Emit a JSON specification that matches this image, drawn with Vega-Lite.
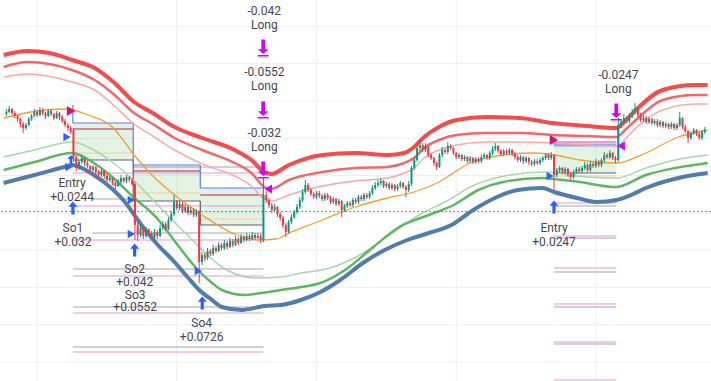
{
"$schema":"https://vega.github.io/schema/vega-lite/v6.json",
"width":711,"height":381,"padding":0,"autosize":{"type":"none"},"background":"#ffffff",
"config":{"view":{"stroke":null}},
"datasets":{
"gx":[{"t":50},{"t":100},{"t":150},{"t":200},{"t":250}],
"gy":[{"p":354.7},{"p":317.4},{"p":280.1},{"p":242.8},{"p":205.5},{"p":168.2},{"p":130.9},{"p":93.6},{"p":56.3},{"p":19}],
"c":[
{"t":39,"o":267,"c":269,"h":272,"l":265},{"t":40,"o":269,"c":272,"h":275,"l":268},{"t":41,"o":272,"c":268,"h":273,"l":266},{"t":42,"o":268,"c":265,"h":270,"l":263},{"t":43,"o":265,"c":262,"h":266,"l":259},{"t":44,"o":262,"c":257,"h":263,"l":254},{"t":45,"o":257,"c":253,"h":259,"l":248},{"t":46,"o":253,"c":256,"h":258,"l":251},{"t":47,"o":256,"c":262,"h":264,"l":255},{"t":48,"o":262,"c":265,"h":267,"l":260},{"t":49,"o":265,"c":269,"h":272,"l":264},{"t":50,"o":269,"c":266,"h":271,"l":264},{"t":51,"o":266,"c":271,"h":274,"l":265},{"t":52,"o":271,"c":268,"h":273,"l":266},{"t":53,"o":268,"c":265,"h":269,"l":262},{"t":54,"o":265,"c":270,"h":272,"l":264},{"t":55,"o":270,"c":267,"h":272,"l":265},{"t":56,"o":267,"c":263,"h":268,"l":261},{"t":57,"o":263,"c":268,"h":270,"l":262},{"t":58,"o":268,"c":264,"h":269,"l":261},{"t":59,"o":264,"c":260,"h":266,"l":258},{"t":60,"o":260,"c":256,"h":262,"l":254},{"t":61,"o":256,"c":253,"h":258,"l":250},{"t":62,"o":253,"c":249,"h":255,"l":247},
{"t":63,"o":251,"c":224,"h":253,"l":219},{"t":64,"o":224,"c":213,"h":226,"l":210},{"t":65,"o":213,"c":219,"h":221,"l":211},{"t":66,"o":219,"c":223,"h":226,"l":217},{"t":67,"o":223,"c":218,"h":224,"l":215},{"t":68,"o":218,"c":215,"h":220,"l":213},{"t":69,"o":215,"c":211,"h":216,"l":208},{"t":70,"o":211,"c":214,"h":216,"l":209},{"t":71,"o":214,"c":209,"h":215,"l":207},{"t":72,"o":209,"c":206,"h":211,"l":203},{"t":73,"o":206,"c":210,"h":212,"l":204},{"t":74,"o":210,"c":205,"h":211,"l":202},{"t":75,"o":205,"c":201,"h":207,"l":199},{"t":76,"o":201,"c":203,"h":205,"l":199},{"t":77,"o":203,"c":198,"h":204,"l":196},{"t":78,"o":198,"c":195,"h":200,"l":192},{"t":79,"o":195,"c":199,"h":202,"l":194},{"t":80,"o":199,"c":203,"h":206,"l":197},{"t":81,"o":203,"c":200,"h":204,"l":198},{"t":82,"o":200,"c":204,"h":206,"l":198},{"t":83,"o":204,"c":201,"h":205,"l":199},{"t":84,"o":201,"c":197,"h":203,"l":195},
{"t":85,"o":197,"c":156,"h":199,"l":141},{"t":86,"o":156,"c":146,"h":160,"l":140},{"t":87,"o":146,"c":153,"h":157,"l":144},{"t":88,"o":153,"c":145,"h":155,"l":142},{"t":89,"o":145,"c":151,"h":154,"l":143},{"t":90,"o":151,"c":148,"h":153,"l":145},{"t":91,"o":148,"c":143,"h":150,"l":140},{"t":92,"o":143,"c":149,"h":152,"l":141},{"t":93,"o":149,"c":145,"h":151,"l":142},{"t":94,"o":145,"c":153,"h":156,"l":144},{"t":95,"o":153,"c":157,"h":160,"l":151},{"t":96,"o":157,"c":152,"h":159,"l":150},{"t":97,"o":152,"c":161,"h":164,"l":151},{"t":98,"o":161,"c":167,"h":170,"l":159},{"t":99,"o":167,"c":179,"h":186,"l":165},{"t":100,"o":179,"c":173,"h":181,"l":171},{"t":101,"o":173,"c":177,"h":180,"l":171},{"t":102,"o":177,"c":170,"h":179,"l":168},{"t":103,"o":170,"c":174,"h":177,"l":168},{"t":104,"o":174,"c":168,"h":176,"l":166},{"t":105,"o":168,"c":171,"h":174,"l":166},{"t":106,"o":171,"c":166,"h":173,"l":164},{"t":107,"o":166,"c":169,"h":172,"l":164},
{"t":108,"o":169,"c":119,"h":171,"l":98},{"t":109,"o":119,"c":126,"h":129,"l":116},{"t":110,"o":126,"c":123,"h":128,"l":120},{"t":111,"o":123,"c":130,"h":133,"l":121},{"t":112,"o":130,"c":127,"h":132,"l":125},{"t":113,"o":127,"c":133,"h":136,"l":125},{"t":114,"o":133,"c":130,"h":135,"l":128},{"t":115,"o":130,"c":136,"h":139,"l":129},{"t":116,"o":136,"c":133,"h":138,"l":131},{"t":117,"o":133,"c":138,"h":141,"l":131},{"t":118,"o":138,"c":134,"h":140,"l":132},{"t":119,"o":134,"c":140,"h":143,"l":133},{"t":120,"o":140,"c":136,"h":142,"l":134},{"t":121,"o":136,"c":142,"h":145,"l":135},{"t":122,"o":142,"c":138,"h":144,"l":136},{"t":123,"o":138,"c":144,"h":147,"l":137},{"t":124,"o":144,"c":141,"h":146,"l":139},{"t":125,"o":141,"c":145,"h":148,"l":140},{"t":126,"o":145,"c":142,"h":147,"l":140},{"t":127,"o":142,"c":146,"h":149,"l":141},{"t":128,"o":146,"c":143,"h":148,"l":141},{"t":129,"o":143,"c":145,"h":148,"l":142},{"t":130,"o":145,"c":141,"h":147,"l":138},
{"t":131,"o":141,"c":186,"h":203,"l":139},{"t":132,"o":186,"c":181,"h":190,"l":178},{"t":133,"o":181,"c":176,"h":183,"l":173},{"t":134,"o":176,"c":171,"h":178,"l":168},{"t":135,"o":171,"c":174,"h":177,"l":169},{"t":136,"o":174,"c":167,"h":175,"l":164},{"t":137,"o":167,"c":163,"h":169,"l":160},{"t":138,"o":163,"c":156,"h":165,"l":153},{"t":139,"o":156,"c":149,"h":158,"l":144},{"t":140,"o":149,"c":159,"h":161,"l":147},{"t":141,"o":159,"c":164,"h":167,"l":157},{"t":142,"o":164,"c":169,"h":171,"l":162},{"t":143,"o":169,"c":174,"h":177,"l":167},{"t":144,"o":174,"c":181,"h":184,"l":172},{"t":145,"o":181,"c":189,"h":192,"l":179},{"t":146,"o":189,"c":196,"h":201,"l":187},{"t":147,"o":196,"c":191,"h":198,"l":189},{"t":148,"o":191,"c":187,"h":193,"l":185},{"t":149,"o":187,"c":184,"h":189,"l":182},{"t":150,"o":184,"c":188,"h":190,"l":182},{"t":151,"o":188,"c":185,"h":190,"l":183},{"t":152,"o":185,"c":182,"h":187,"l":180},{"t":153,"o":182,"c":186,"h":188,"l":180},{"t":154,"o":186,"c":183,"h":188,"l":181},{"t":155,"o":183,"c":179,"h":185,"l":177},{"t":156,"o":179,"c":182,"h":184,"l":177},{"t":157,"o":182,"c":177,"h":183,"l":175},{"t":158,"o":177,"c":180,"h":182,"l":175},{"t":159,"o":180,"c":171,"h":181,"l":164},{"t":160,"o":171,"c":175,"h":177,"l":169},{"t":161,"o":175,"c":178,"h":180,"l":173},{"t":162,"o":178,"c":176,"h":180,"l":174},{"t":163,"o":176,"c":181,"h":183,"l":174},{"t":164,"o":181,"c":179,"h":183,"l":177},{"t":165,"o":179,"c":184,"h":186,"l":177},{"t":166,"o":184,"c":182,"h":186,"l":180},{"t":167,"o":182,"c":186,"h":188,"l":180},{"t":168,"o":186,"c":184,"h":188,"l":182},{"t":169,"o":184,"c":188,"h":190,"l":182},{"t":170,"o":188,"c":193,"h":196,"l":186},{"t":171,"o":193,"c":196,"h":199,"l":191},{"t":172,"o":196,"c":198,"h":201,"l":194},{"t":173,"o":198,"c":200,"h":203,"l":196},{"t":174,"o":200,"c":195,"h":201,"l":193},{"t":175,"o":195,"c":197,"h":199,"l":193},{"t":176,"o":197,"c":193,"h":199,"l":191},{"t":177,"o":193,"c":196,"h":198,"l":191},{"t":178,"o":196,"c":192,"h":197,"l":190},{"t":179,"o":192,"c":195,"h":197,"l":190},{"t":180,"o":195,"c":198,"h":200,"l":193},{"t":181,"o":198,"c":194,"h":199,"l":192},{"t":182,"o":194,"c":191,"h":196,"l":184},{"t":183,"o":191,"c":197,"h":200,"l":189},
{"t":184,"o":197,"c":213,"h":215,"l":195},{"t":185,"o":213,"c":221,"h":224,"l":211},{"t":186,"o":221,"c":233,"h":236,"l":219},{"t":187,"o":233,"c":236,"h":241,"l":230},{"t":188,"o":236,"c":231,"h":238,"l":229},{"t":189,"o":231,"c":234,"h":238,"l":229},{"t":190,"o":234,"c":226,"h":235,"l":224},{"t":191,"o":226,"c":223,"h":228,"l":221},{"t":192,"o":223,"c":218,"h":224,"l":215},{"t":193,"o":218,"c":214,"h":219,"l":211},{"t":194,"o":214,"c":226,"h":228,"l":213},{"t":195,"o":226,"c":231,"h":234,"l":224},{"t":196,"o":231,"c":229,"h":233,"l":227},{"t":197,"o":229,"c":235,"h":239,"l":227},{"t":198,"o":235,"c":233,"h":237,"l":231},{"t":199,"o":233,"c":228,"h":234,"l":226},{"t":200,"o":228,"c":224,"h":229,"l":222},{"t":201,"o":224,"c":226,"h":228,"l":222},{"t":202,"o":226,"c":222,"h":227,"l":220},{"t":203,"o":222,"c":224,"h":226,"l":220},{"t":204,"o":224,"c":220,"h":225,"l":218},{"t":205,"o":220,"c":223,"h":225,"l":218},{"t":206,"o":223,"c":219,"h":224,"l":217},{"t":207,"o":219,"c":222,"h":224,"l":217},{"t":208,"o":222,"c":220,"h":224,"l":218},{"t":209,"o":220,"c":224,"h":226,"l":218},{"t":210,"o":224,"c":226,"h":228,"l":222},{"t":211,"o":226,"c":223,"h":227,"l":221},{"t":212,"o":223,"c":228,"h":230,"l":221},{"t":213,"o":228,"c":232,"h":235,"l":226},{"t":214,"o":232,"c":235,"h":238,"l":230},{"t":215,"o":235,"c":230,"h":236,"l":228},{"t":216,"o":230,"c":227,"h":232,"l":225},{"t":217,"o":227,"c":230,"h":232,"l":225},{"t":218,"o":230,"c":228,"h":232,"l":226},{"t":219,"o":228,"c":231,"h":233,"l":226},{"t":220,"o":231,"c":227,"h":232,"l":225},{"t":221,"o":227,"c":224,"h":229,"l":222},{"t":222,"o":224,"c":221,"h":226,"l":219},{"t":223,"o":221,"c":224,"h":226,"l":219},{"t":224,"o":224,"c":220,"h":225,"l":217},{"t":225,"o":220,"c":223,"h":225,"l":218},{"t":226,"o":223,"c":219,"h":224,"l":216},{"t":227,"o":219,"c":217,"h":221,"l":215},{"t":228,"o":217,"c":220,"h":222,"l":215},{"t":229,"o":220,"c":218,"h":222,"l":216},{"t":230,"o":218,"c":221,"h":223,"l":216},{"t":231,"o":221,"c":223,"h":225,"l":219},{"t":232,"o":223,"c":226,"h":228,"l":221},{"t":233,"o":226,"c":223,"h":228,"l":221},{"t":234,"o":223,"c":226,"h":229,"l":221},
{"t":235,"o":226,"c":206,"h":227,"l":191},{"t":236,"o":206,"c":211,"h":213,"l":204},{"t":237,"o":211,"c":213,"h":215,"l":208},{"t":238,"o":213,"c":209,"h":214,"l":207},{"t":239,"o":209,"c":212,"h":214,"l":207},{"t":240,"o":212,"c":207,"h":213,"l":204},{"t":241,"o":207,"c":204,"h":209,"l":201},{"t":242,"o":204,"c":209,"h":211,"l":202},{"t":243,"o":209,"c":212,"h":214,"l":207},{"t":244,"o":212,"c":210,"h":214,"l":208},{"t":245,"o":210,"c":213,"h":215,"l":208},{"t":246,"o":213,"c":216,"h":219,"l":211},{"t":247,"o":216,"c":211,"h":218,"l":209},{"t":248,"o":211,"c":217,"h":220,"l":209},{"t":249,"o":217,"c":215,"h":219,"l":213},{"t":250,"o":215,"c":219,"h":222,"l":213},{"t":251,"o":219,"c":216,"h":221,"l":214},{"t":252,"o":216,"c":221,"h":223,"l":214},{"t":253,"o":221,"c":226,"h":229,"l":219},{"t":254,"o":226,"c":224,"h":228,"l":222},{"t":255,"o":224,"c":228,"h":231,"l":222},{"t":256,"o":228,"c":223,"h":229,"l":221},{"t":257,"o":223,"c":221,"h":225,"l":218},
{"t":258,"o":221,"c":256,"h":263,"l":219},{"t":259,"o":256,"c":259,"h":262,"l":253},{"t":260,"o":259,"c":263,"h":267,"l":257},{"t":261,"o":263,"c":260,"h":265,"l":258},{"t":262,"o":260,"c":265,"h":268,"l":258},{"t":263,"o":265,"c":269,"h":272,"l":263},{"t":264,"o":269,"c":273,"h":278,"l":267},{"t":265,"o":273,"c":266,"h":274,"l":264},{"t":266,"o":266,"c":261,"h":268,"l":259},{"t":267,"o":261,"c":263,"h":266,"l":259},{"t":268,"o":263,"c":259,"h":265,"l":257},{"t":269,"o":259,"c":262,"h":264,"l":257},{"t":270,"o":262,"c":258,"h":263,"l":256},{"t":271,"o":258,"c":260,"h":262,"l":256},{"t":272,"o":260,"c":256,"h":262,"l":254},{"t":273,"o":256,"c":259,"h":261,"l":254},{"t":274,"o":259,"c":255,"h":260,"l":253},{"t":275,"o":255,"c":257,"h":259,"l":253},{"t":276,"o":257,"c":254,"h":258,"l":252},{"t":277,"o":254,"c":257,"h":259,"l":252},{"t":278,"o":257,"c":253,"h":258,"l":251},{"t":279,"o":253,"c":256,"h":258,"l":251},{"t":280,"o":256,"c":263,"h":269,"l":254},{"t":281,"o":263,"c":254,"h":264,"l":252},{"t":282,"o":254,"c":250,"h":256,"l":248},{"t":283,"o":250,"c":243,"h":251,"l":238},{"t":284,"o":243,"c":248,"h":250,"l":241},{"t":285,"o":248,"c":251,"h":253,"l":246},{"t":286,"o":251,"c":247,"h":252,"l":245},{"t":287,"o":247,"c":243,"h":249,"l":241},{"t":288,"o":243,"c":249,"h":251,"l":241},{"t":289,"o":249,"c":251,"h":254,"l":247}
],
"u3":[{"t":38,"p":326},{"t":46.6,"p":330},{"t":54.4,"p":328},{"t":62.5,"p":321},{"t":70.6,"p":313},{"t":77.3,"p":299},{"t":84.7,"p":279},{"t":91.4,"p":268},{"t":99.2,"p":254},{"t":109.1,"p":243},{"t":120.7,"p":231},{"t":126.7,"p":221},{"t":131.3,"p":209},{"t":133.8,"p":207},{"t":140.1,"p":216},{"t":152.1,"p":226},{"t":163.8,"p":228},{"t":175.4,"p":226},{"t":181.4,"p":228},{"t":184.9,"p":234},{"t":188.5,"p":244},{"t":193.8,"p":254},{"t":200.1,"p":261},{"t":210.7,"p":264},{"t":222.7,"p":263},{"t":234.3,"p":258},{"t":246.7,"p":255},{"t":257.3,"p":253},{"t":260.8,"p":261},{"t":264.3,"p":271},{"t":273.9,"p":291},{"t":285.5,"p":296},{"t":290,"p":296}],
"u2":[{"t":38,"p":314},{"t":46.6,"p":319},{"t":62.5,"p":311},{"t":70.6,"p":301},{"t":77.3,"p":287},{"t":84.7,"p":268},{"t":91.4,"p":257},{"t":99.2,"p":243},{"t":109.1,"p":231},{"t":120.7,"p":218},{"t":126.7,"p":208},{"t":131.3,"p":194},{"t":133.8,"p":192},{"t":140.1,"p":201},{"t":152.1,"p":209},{"t":163.8,"p":213},{"t":175.4,"p":214},{"t":181.4,"p":218},{"t":184.9,"p":223},{"t":188.5,"p":233},{"t":193.8,"p":241},{"t":200.1,"p":246},{"t":210.7,"p":248},{"t":222.7,"p":248},{"t":234.3,"p":246},{"t":246.7,"p":245},{"t":257.3,"p":244},{"t":260.8,"p":252},{"t":264.3,"p":261},{"t":273.9,"p":281},{"t":285.5,"p":286},{"t":290,"p":286}],
"u1":[{"t":38,"p":304},{"t":46.6,"p":307},{"t":62.5,"p":299},{"t":70.6,"p":291},{"t":77.3,"p":276},{"t":84.7,"p":257},{"t":91.4,"p":245},{"t":99.2,"p":231},{"t":109.1,"p":217},{"t":120.7,"p":205},{"t":126.7,"p":195},{"t":131.3,"p":182},{"t":133.8,"p":180},{"t":140.1,"p":186},{"t":152.1,"p":195},{"t":163.8,"p":200},{"t":175.4,"p":203},{"t":181.4,"p":208},{"t":184.9,"p":213},{"t":188.5,"p":223},{"t":193.8,"p":231},{"t":200.1,"p":236},{"t":210.7,"p":239},{"t":222.7,"p":239},{"t":234.3,"p":238},{"t":246.7,"p":236},{"t":257.3,"p":235},{"t":260.8,"p":243},{"t":264.3,"p":253},{"t":273.9,"p":271},{"t":285.5,"p":277},{"t":290,"p":277}],
"m":[{"t":38,"p":263},{"t":52.6,"p":271},{"t":60.7,"p":272},{"t":69.2,"p":265},{"t":73.8,"p":260},{"t":77.3,"p":253},{"t":80.8,"p":241},{"t":84.7,"p":226},{"t":91.4,"p":205},{"t":99.2,"p":186},{"t":109.1,"p":166},{"t":121.4,"p":146},{"t":129.5,"p":141},{"t":135.5,"p":142},{"t":140.1,"p":148},{"t":152.1,"p":161},{"t":163.8,"p":174},{"t":175.4,"p":183},{"t":184.9,"p":189},{"t":193.1,"p":198},{"t":205,"p":218},{"t":216.7,"p":226},{"t":228.3,"p":228},{"t":235.4,"p":226},{"t":244.2,"p":221},{"t":257.3,"p":218},{"t":267.9,"p":228},{"t":279.5,"p":244},{"t":290,"p":251}],
"l1":[{"t":38,"p":224},{"t":49.1,"p":231},{"t":62.5,"p":239},{"t":70.3,"p":231},{"t":77.3,"p":218},{"t":83.3,"p":204},{"t":91.4,"p":181},{"t":104.5,"p":144},{"t":116.1,"p":114},{"t":127.8,"p":103},{"t":137.3,"p":104},{"t":144.4,"p":108},{"t":154.9,"p":113},{"t":165.5,"p":126},{"t":176.1,"p":146},{"t":186.7,"p":166},{"t":197.3,"p":181},{"t":205,"p":194},{"t":219.2,"p":206},{"t":231.9,"p":209},{"t":243.2,"p":205},{"t":257.3,"p":203},{"t":267.9,"p":213},{"t":278.4,"p":221},{"t":290,"p":226}],
"l2":[{"t":38,"p":211},{"t":49.1,"p":219},{"t":62.5,"p":228},{"t":70.3,"p":218},{"t":77.3,"p":203},{"t":84.4,"p":184},{"t":92.5,"p":164},{"t":100.3,"p":136},{"t":106.6,"p":114},{"t":112.6,"p":98},{"t":116.1,"p":91},{"t":124.2,"p":86},{"t":130.2,"p":88},{"t":137.3,"p":91},{"t":144.4,"p":94},{"t":151.4,"p":98},{"t":160.2,"p":111},{"t":169.1,"p":131},{"t":179.6,"p":154},{"t":190.2,"p":166},{"t":199.1,"p":176},{"t":207.9,"p":191},{"t":216.7,"p":199},{"t":230.8,"p":203},{"t":235,"p":202},{"t":244.2,"p":199},{"t":257.3,"p":194},{"t":267.9,"p":206},{"t":278.4,"p":213},{"t":290,"p":218}],
"l3":[{"t":38,"p":198},{"t":49.1,"p":206},{"t":59.7,"p":214},{"t":62.5,"p":216},{"t":70.3,"p":206},{"t":77.3,"p":191},{"t":80.8,"p":181},{"t":87.9,"p":154},{"t":93.2,"p":136},{"t":98.5,"p":121},{"t":103.8,"p":104},{"t":108,"p":91},{"t":112.6,"p":81},{"t":116.1,"p":74},{"t":123.2,"p":71},{"t":131.3,"p":75},{"t":137.3,"p":76},{"t":144.4,"p":81},{"t":151.4,"p":89},{"t":158.5,"p":101},{"t":166.6,"p":118},{"t":174.4,"p":131},{"t":182.5,"p":141},{"t":190.2,"p":148},{"t":198.3,"p":156},{"t":206.1,"p":171},{"t":214.6,"p":184},{"t":222,"p":191},{"t":230.8,"p":193},{"t":235,"p":189},{"t":243.2,"p":183},{"t":250.2,"p":179},{"t":257.3,"p":181},{"t":262.6,"p":186},{"t":267.9,"p":193},{"t":279.5,"p":203},{"t":290,"p":208}],
"box":[{"t1":62.8,"t2":84.4,"p1":258,"p2":221},{"t1":84.4,"t2":108.4,"p1":216,"p2":180},{"t1":108.4,"t2":131,"p1":193,"p2":156},{"t1":235,"t2":257.3,"p1":236,"p2":208}],
"seg":[
{"k":"gray","t1":69.9,"p1":182,"t2":84.4,"p2":182},{"k":"gray","t1":84.4,"p1":214,"t2":131,"p2":214},{"k":"gray","t1":69.9,"p1":148,"t2":131,"p2":148},{"k":"gray","t1":62.8,"p1":112,"t2":131,"p2":112},{"k":"gray","t1":62.8,"p1":74,"t2":131,"p2":74},{"k":"gray","t1":62.8,"p1":34,"t2":131,"p2":34},
{"k":"gray","t1":235,"p1":175,"t2":257.3,"p2":175},{"k":"gray","t1":235,"p1":143,"t2":257.3,"p2":143},{"k":"gray","t1":235,"p1":109,"t2":257.3,"p2":109},{"k":"gray","t1":235,"p1":74,"t2":257.3,"p2":74},{"k":"gray","t1":235,"p1":37,"t2":257.3,"p2":37},
{"k":"pink","t1":62.8,"p1":208,"t2":131,"p2":208},{"k":"pink","t1":62.8,"p1":175,"t2":131,"p2":175},{"k":"pink","t1":62.8,"p1":141,"t2":131,"p2":141},{"k":"pink","t1":62.8,"p1":105,"t2":131,"p2":105},{"k":"pink","t1":62.8,"p1":68,"t2":131,"p2":68},{"k":"pink","t1":62.8,"p1":29,"t2":131,"p2":29},
{"k":"pink","t1":235,"p1":178,"t2":257.3,"p2":178},{"k":"pink","t1":235,"p1":145,"t2":257.3,"p2":145},{"k":"pink","t1":235,"p1":113,"t2":257.3,"p2":113},{"k":"pink","t1":235,"p1":77,"t2":257.3,"p2":77},{"k":"pink","t1":235,"p1":39,"t2":257.3,"p2":39},{"k":"pink","t1":235,"p1":1,"t2":257.3,"p2":1},
{"k":"orange","t1":62.8,"p1":228,"t2":84.4,"p2":228},{"k":"orange","t1":84.4,"p1":188,"t2":108.4,"p2":188},{"k":"orange","t1":108.4,"p1":162,"t2":131,"p2":162},{"k":"orange","t1":235,"p1":205,"t2":257.3,"p2":205},
{"k":"dgray","t1":62.8,"p1":221,"t2":84.4,"p2":221},{"k":"dgray","t1":84.4,"p1":221,"t2":84.4,"p2":180},{"k":"dgray","t1":84.4,"p1":180,"t2":108.4,"p2":180},{"k":"dgray","t1":108.4,"p1":180,"t2":108.4,"p2":156},{"k":"dgray","t1":108.4,"p1":156,"t2":131,"p2":156},{"k":"dgray","t1":235,"p1":208,"t2":257.3,"p2":208},
{"k":"crimson","t1":62.8,"p1":252,"t2":84.4,"p2":252},{"k":"crimson","t1":84.4,"p1":210,"t2":108.4,"p2":210},{"k":"crimson","t1":108.4,"p1":186,"t2":131,"p2":186},
{"k":"blue","t1":62.8,"p1":276,"t2":62.8,"p2":258},{"k":"blue","t1":62.8,"p1":258,"t2":84.4,"p2":258},{"k":"blue","t1":84.4,"p1":258,"t2":84.4,"p2":216},{"k":"blue","t1":84.4,"p1":216,"t2":108.4,"p2":216},{"k":"blue","t1":108.4,"p1":216,"t2":108.4,"p2":193},{"k":"blue","t1":108.4,"p1":193,"t2":131,"p2":193},
{"k":"mag","t1":235,"p1":239,"t2":257.3,"p2":239}
],
"seg2":[{"t1":235,"p1":236,"t2":257.3,"p2":236}],
"mk":[
{"k":"bup","t":62.8,"p":173},{"k":"bup","t":84.9,"p":131},{"k":"bup","t":109.1,"p":78},{"k":"bup","t":235,"p":174},
{"k":"bups","t":62.1,"p":221},
{"k":"tri","t":60.7,"p":244},{"k":"tri","t":61.4,"p":214},{"k":"tri","t":83.7,"p":181},{"k":"tri","t":83.7,"p":147},{"k":"tri","t":107.7,"p":110},{"k":"tri","t":233.6,"p":205},
{"k":"crt","t":62.2,"p":270},{"k":"crt","t":235,"p":241},
{"k":"mlt","t":132.7,"p":192},{"k":"mlt","t":259,"p":235},
{"k":"mdn","t":130.9,"p":333},{"k":"mdn","t":130.9,"p":271},{"k":"mdn","t":130.9,"p":211},{"k":"mdn","t":257.3,"p":269}
],
"lbl":[
{"t":62.5,"p":198,"txt":"Entry"},{"t":62.5,"p":184,"txt":"+0.0244"},{"t":62.8,"p":153,"txt":"So1"},{"t":62.8,"p":139,"txt":"+0.032"},{"t":84.9,"p":112,"txt":"So2"},{"t":84.9,"p":99,"txt":"+0.042"},{"t":85.1,"p":86.5,"txt":"So3"},{"t":85.1,"p":74,"txt":"+0.0552"},{"t":108.9,"p":58,"txt":"So4"},{"t":108.9,"p":44,"txt":"+0.0726"},
{"t":131.3,"p":370,"txt":"-0.042"},{"t":131.3,"p":356,"txt":"Long"},{"t":131.3,"p":309,"txt":"-0.0552"},{"t":131.3,"p":295,"txt":"Long"},{"t":131.3,"p":248,"txt":"-0.032"},{"t":131.3,"p":234,"txt":"Long"},
{"t":258,"p":306,"txt":"-0.0247"},{"t":258,"p":292,"txt":"Long"},{"t":235,"p":153,"txt":"Entry"},{"t":235,"p":139,"txt":"+0.0247"}
]
},
"layer":[
{"data":{"name":"gx"},"mark":{"type":"rule","color":"#eceef2","strokeWidth":1},"encoding":{"x":{"field":"t","type":"quantitative","scale":{"domain":[38.5,289.4],"nice":false,"zero":false},"axis":null}}},
{"data":{"name":"gy"},"mark":{"type":"rule","color":"#eceef2","strokeWidth":1},"encoding":{"y":{"field":"p","type":"quantitative","scale":{"domain":[0,381],"nice":false,"zero":false},"axis":null}}},
{"data":{"name":"box"},"mark":{"type":"rect","color":"#4caf50","opacity":0.16},
 "encoding":{"x":{"field":"t1","type":"quantitative","scale":{"domain":[38.5,289.4],"nice":false,"zero":false},"axis":null},"x2":{"field":"t2"},
 "y":{"field":"p1","type":"quantitative","scale":{"domain":[0,381],"nice":false,"zero":false},"axis":null},"y2":{"field":"p2"}}},
{"data":{"name":"seg"},"mark":{"type":"rule","strokeWidth":1.2},
 "encoding":{"x":{"field":"t1","type":"quantitative","scale":{"domain":[38.5,289.4],"nice":false,"zero":false},"axis":null},"x2":{"field":"t2"},
 "y":{"field":"p1","type":"quantitative","scale":{"domain":[0,381],"nice":false,"zero":false},"axis":null},"y2":{"field":"p2"},
 "color":{"field":"k","type":"nominal","legend":null,"scale":{"domain":["gray","pink","orange","dgray","crimson","blue","mag"],"range":["#a3a6ad","#e39ad3","#f7c9a6","#5d6068","#c2185b","#5b7cf6","#e8369a"]}}}},
{"data":{"name":"seg2"},"mark":{"type":"rule","strokeWidth":3,"color":"#8ea6f2"},
 "encoding":{"x":{"field":"t1","type":"quantitative","scale":{"domain":[38.5,289.4],"nice":false,"zero":false},"axis":null},"x2":{"field":"t2"},
 "y":{"field":"p1","type":"quantitative","scale":{"domain":[0,381],"nice":false,"zero":false},"axis":null},"y2":{"field":"p2"}}},
{"data":{"name":"u1"},"mark":{"type":"line","color":"#f7a8a8","strokeWidth":1.5,"interpolate":"monotone","clip":true},"encoding":{"x":{"field":"t","type":"quantitative","scale":{"domain":[38.5,289.4],"nice":false,"zero":false},"axis":null},"y":{"field":"p","type":"quantitative","scale":{"domain":[0,381],"nice":false,"zero":false},"axis":null}}},
{"data":{"name":"u2"},"mark":{"type":"line","color":"#f26868","strokeWidth":2.5,"interpolate":"monotone","clip":true},"encoding":{"x":{"field":"t","type":"quantitative","scale":{"domain":[38.5,289.4],"nice":false,"zero":false},"axis":null},"y":{"field":"p","type":"quantitative","scale":{"domain":[0,381],"nice":false,"zero":false},"axis":null}}},
{"data":{"name":"u3"},"mark":{"type":"line","color":"#f44b4b","strokeWidth":4,"interpolate":"monotone","clip":true},"encoding":{"x":{"field":"t","type":"quantitative","scale":{"domain":[38.5,289.4],"nice":false,"zero":false},"axis":null},"y":{"field":"p","type":"quantitative","scale":{"domain":[0,381],"nice":false,"zero":false},"axis":null}}},
{"data":{"name":"l1"},"mark":{"type":"line","color":"#a8d8aa","strokeWidth":1.5,"interpolate":"monotone","clip":true},"encoding":{"x":{"field":"t","type":"quantitative","scale":{"domain":[38.5,289.4],"nice":false,"zero":false},"axis":null},"y":{"field":"p","type":"quantitative","scale":{"domain":[0,381],"nice":false,"zero":false},"axis":null}}},
{"data":{"name":"l2"},"mark":{"type":"line","color":"#5cb85f","strokeWidth":2.5,"interpolate":"monotone","clip":true},"encoding":{"x":{"field":"t","type":"quantitative","scale":{"domain":[38.5,289.4],"nice":false,"zero":false},"axis":null},"y":{"field":"p","type":"quantitative","scale":{"domain":[0,381],"nice":false,"zero":false},"axis":null}}},
{"data":{"name":"l3"},"mark":{"type":"line","color":"#507dab","strokeWidth":4,"interpolate":"monotone","clip":true},"encoding":{"x":{"field":"t","type":"quantitative","scale":{"domain":[38.5,289.4],"nice":false,"zero":false},"axis":null},"y":{"field":"p","type":"quantitative","scale":{"domain":[0,381],"nice":false,"zero":false},"axis":null}}},
{"data":{"name":"m"},"mark":{"type":"line","color":"#f0a030","strokeWidth":1.3,"interpolate":"monotone","clip":true},"encoding":{"x":{"field":"t","type":"quantitative","scale":{"domain":[38.5,289.4],"nice":false,"zero":false},"axis":null},"y":{"field":"p","type":"quantitative","scale":{"domain":[0,381],"nice":false,"zero":false},"axis":null}}},
{"data":{"name":"c"},"mark":{"type":"rule","strokeWidth":1},"encoding":{"x":{"field":"t","type":"quantitative","scale":{"domain":[38.5,289.4],"nice":false,"zero":false},"axis":null},"y":{"field":"l","type":"quantitative","scale":{"domain":[0,381],"nice":false,"zero":false},"axis":null},"y2":{"field":"h"},"color":{"condition":{"test":"datum.c >= datum.o","value":"#089981"},"value":"#f23645"}}},
{"data":{"name":"c"},"mark":{"type":"bar","size":2},"encoding":{"x":{"field":"t","type":"quantitative","scale":{"domain":[38.5,289.4],"nice":false,"zero":false},"axis":null},"y":{"field":"o","type":"quantitative","scale":{"domain":[0,381],"nice":false,"zero":false},"axis":null},"y2":{"field":"c"},"color":{"condition":{"test":"datum.c >= datum.o","value":"#089981"},"value":"#f23645"}}},
{"data":{"values":[{"p":169.5}]},"mark":{"type":"rule","color":"#f23645","strokeDash":[1.5,2.5],"strokeWidth":1},"encoding":{"y":{"field":"p","type":"quantitative","scale":{"domain":[0,381],"nice":false,"zero":false},"axis":null}}},
{"data":{"name":"mk"},"transform":[{"filter":"datum.k == 'bup'"}],"mark":{"type":"point","shape":"M0,-1L0.7,-0.2L0.25,-0.2L0.25,1L-0.25,1L-0.25,-0.2L-0.7,-0.2Z","filled":true,"color":"#2962ff","opacity":1,"size":169},"encoding":{"x":{"field":"t","type":"quantitative","scale":{"domain":[38.5,289.4],"nice":false,"zero":false},"axis":null},"y":{"field":"p","type":"quantitative","scale":{"domain":[0,381],"nice":false,"zero":false},"axis":null}}},
{"data":{"name":"mk"},"transform":[{"filter":"datum.k == 'bups'"}],"mark":{"type":"point","shape":"M0,-1L0.7,-0.2L0.25,-0.2L0.25,1L-0.25,1L-0.25,-0.2L-0.7,-0.2Z","filled":true,"color":"#2962ff","opacity":1,"size":100},"encoding":{"x":{"field":"t","type":"quantitative","scale":{"domain":[38.5,289.4],"nice":false,"zero":false},"axis":null},"y":{"field":"p","type":"quantitative","scale":{"domain":[0,381],"nice":false,"zero":false},"axis":null}}},
{"data":{"name":"mk"},"transform":[{"filter":"datum.k == 'tri'"}],"mark":{"type":"point","shape":"triangle-right","filled":true,"color":"#2962ff","opacity":1,"size":70},"encoding":{"x":{"field":"t","type":"quantitative","scale":{"domain":[38.5,289.4],"nice":false,"zero":false},"axis":null},"y":{"field":"p","type":"quantitative","scale":{"domain":[0,381],"nice":false,"zero":false},"axis":null}}},
{"data":{"name":"mk"},"transform":[{"filter":"datum.k == 'crt'"}],"mark":{"type":"point","shape":"triangle-right","filled":true,"color":"#d4147a","opacity":1,"size":100},"encoding":{"x":{"field":"t","type":"quantitative","scale":{"domain":[38.5,289.4],"nice":false,"zero":false},"axis":null},"y":{"field":"p","type":"quantitative","scale":{"domain":[0,381],"nice":false,"zero":false},"axis":null}}},
{"data":{"name":"mk"},"transform":[{"filter":"datum.k == 'mlt'"}],"mark":{"type":"point","shape":"triangle-left","filled":true,"color":"#d500f9","opacity":1,"size":80},"encoding":{"x":{"field":"t","type":"quantitative","scale":{"domain":[38.5,289.4],"nice":false,"zero":false},"axis":null},"y":{"field":"p","type":"quantitative","scale":{"domain":[0,381],"nice":false,"zero":false},"axis":null}}},
{"data":{"name":"mk"},"transform":[{"filter":"datum.k == 'mdn'"}],"mark":{"type":"point","shape":"M-0.22,-1L0.22,-1L0.22,0.15L0.62,0.15L0,0.72L-0.62,0.15L-0.22,0.15Z M-0.65,0.82L0.65,0.82L0.65,1L-0.65,1Z","filled":true,"color":"#d500f9","opacity":1,"size":289},"encoding":{"x":{"field":"t","type":"quantitative","scale":{"domain":[38.5,289.4],"nice":false,"zero":false},"axis":null},"y":{"field":"p","type":"quantitative","scale":{"domain":[0,381],"nice":false,"zero":false},"axis":null}}},
{"data":{"name":"lbl"},"mark":{"type":"text","font":"Roboto","fontSize":12,"color":"#434651","align":"center","baseline":"middle"},"encoding":{"x":{"field":"t","type":"quantitative","scale":{"domain":[38.5,289.4],"nice":false,"zero":false},"axis":null},"y":{"field":"p","type":"quantitative","scale":{"domain":[0,381],"nice":false,"zero":false},"axis":null},"text":{"field":"txt"}}}
]
}
